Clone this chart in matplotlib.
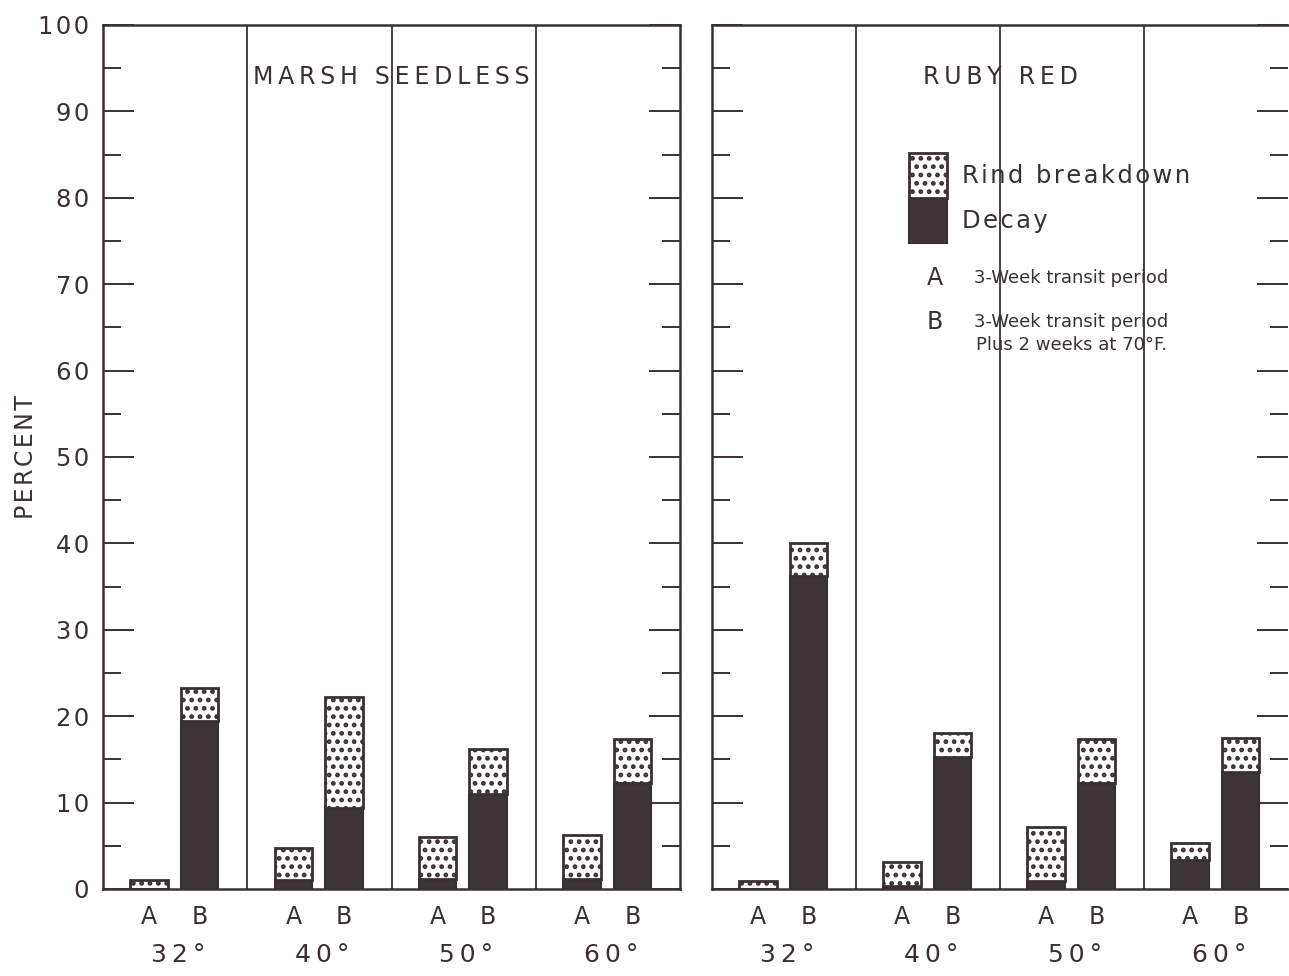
import numpy as np
import matplotlib
matplotlib.use("Agg")
import matplotlib.pyplot as plt
from matplotlib.ticker import FuncFormatter

# values (percent)
temps = ['32°', '40°', '50°', '60°']
panels = ['MARSH SEEDLESS', 'RUBY RED']

# decay / total (decay + rind breakdown) for A and B bars
marsh_decay_a = [0.0, 1.0, 1.2, 1.2]
marsh_total_a = [1.0, 4.8, 6.0, 6.3]
marsh_decay_b = [19.5, 9.4, 11.0, 12.3]
marsh_total_b = [23.3, 22.2, 16.2, 17.4]

ruby_decay_a = [0.0, 0.3, 0.9, 3.4]
ruby_total_a = [0.9, 3.1, 7.2, 5.3]
ruby_decay_b = [36.2, 15.3, 12.3, 13.5]
ruby_total_b = [40.0, 18.1, 17.4, 17.5]

ink = '#3a3034'
dark = '#3d3438'

plt.rcParams['hatch.color'] = ink
plt.rcParams['hatch.linewidth'] = 2.2
plt.rcParams['font.family'] = ['DejaVu Sans']


# the print uses wide letter spacing
def spaced(s, gap='\u2009'):
    return gap.join(s)


fig = plt.figure(figsize=(12.89, 9.76), dpi=100)
ax1 = fig.add_axes([103 / 1289, 87 / 976, 577 / 1289, 864 / 976])
ax2 = fig.add_axes([712 / 1289, 87 / 976, 576 / 1289, 864 / 976])

data = [
    (ax1, marsh_decay_a, marsh_total_a, marsh_decay_b, marsh_total_b),
    (ax2, ruby_decay_a, ruby_total_a, ruby_decay_b, ruby_total_b),
]

x = np.arange(len(temps))
off_a, off_b, w = 0.32, 0.67, 0.26

for i, (ax, da, ta, db, tb) in enumerate(data):
    ra = np.array(ta) - np.array(da)
    rb = np.array(tb) - np.array(db)
    for xs, d, r in ((x + off_a, da, ra), (x + off_b, db, rb)):
        ax.bar(xs, d, w, color=dark, edgecolor=ink, linewidth=1.5)
        ax.bar(xs, r, w, bottom=d, color='white', edgecolor=ink,
               linewidth=2.0, hatch='..')
    ax.set_xlim(0, 4)
    ax.set_ylim(0, 100)
    for g in (1, 2, 3):
        ax.axvline(g, color=ink, lw=1.3)
    ax.set_xticks([])
    ax.set_yticks(np.arange(0, 101, 10))
    ax.set_yticks(np.arange(5, 100, 10), minor=True)
    ax.yaxis.set_major_formatter(
        FuncFormatter(lambda v, p: spaced('%d' % v, '\u200a')))
    ax.tick_params(axis='y', which='major', direction='in', length=22,
                   width=1.4, color=ink, left=True, right=True,
                   labelsize=17.5, labelcolor=ink, pad=10)
    ax.tick_params(axis='y', which='minor', direction='in', length=13,
                   width=1.4, color=ink, left=True, right=True)
    for s in ax.spines.values():
        s.set_color(ink)
        s.set_linewidth(1.8)
    if i == 1:
        ax.tick_params(axis='y', labelleft=False)
        ax.spines['right'].set_visible(False)
    tr = ax.get_xaxis_transform()
    for k, t in enumerate(temps):
        ax.text(k + off_a, -0.032, 'A', transform=tr, ha='center',
                va='center', fontsize=17, color=ink)
        ax.text(k + off_b, -0.032, 'B', transform=tr, ha='center',
                va='center', fontsize=17, color=ink)
        ax.text(k + 0.52, -0.076, spaced(t), transform=tr, ha='center',
                va='center', fontsize=18, color=ink)
    ax.text(2, 94, spaced(panels[i]), ha='center', va='center',
            fontsize=17, color=ink)

ax1.set_ylabel(spaced('PERCENT', '\u200a'), fontsize=17, color=ink)
ax1.yaxis.set_label_coords(-0.112, 0.5)

# legend drawn inside the Ruby Red panel
ax2.bar([1.5], [5.2], 0.26, bottom=[74.8], color=dark, edgecolor=ink,
        linewidth=1.5)
ax2.bar([1.5], [5.2], 0.26, bottom=[80.0], color='white', edgecolor=ink,
        linewidth=2.0, hatch='..')
ax2.text(1.735, 82.5, spaced('Rind breakdown', '\u200a'), fontsize=17.5,
         va='center', color=ink)
ax2.text(1.735, 77.3, spaced('Decay', '\u200a'), fontsize=17.5,
         va='center', color=ink)
ax2.text(1.55, 70.7, 'A', fontsize=17, ha='center', va='center', color=ink)
ax2.text(1.82, 70.7, '3-Week transit period', fontsize=13, va='center',
         color=ink)
ax2.text(1.55, 65.6, 'B', fontsize=17, ha='center', va='center', color=ink)
ax2.text(1.82, 65.6, '3-Week transit period', fontsize=13, va='center',
         color=ink)
ax2.text(1.83, 63.0, 'Plus 2 weeks at 70°F.', fontsize=13, va='center',
         color=ink)

fig.savefig('out.png', dpi=100)
